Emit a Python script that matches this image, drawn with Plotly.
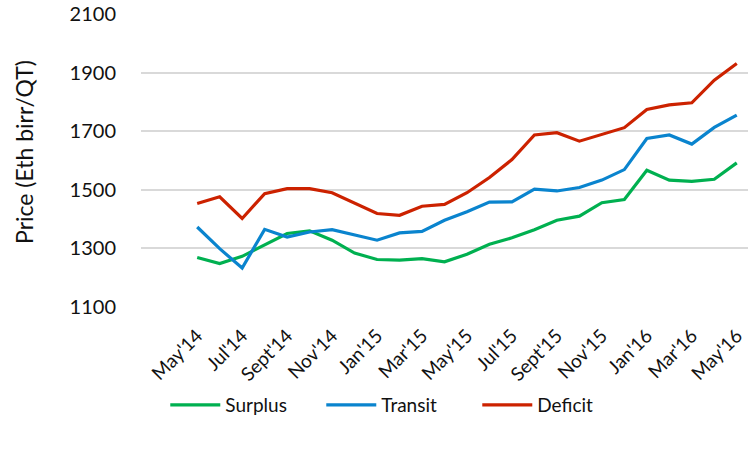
import plotly.graph_objects as go

FONT = "Lato, 'Open Sans', sans-serif"

# monthly, May'14 .. May'16
months = list(range(25))
tick_labels = ["May'14", "Jul'14", "Sept'14", "Nov'14", "Jan'15", "Mar'15", "May'15",
               "Jul'15", "Sept'15", "Nov'15", "Jan'16", "Mar'16", "May'16"]

surplus = [1269, 1248, 1273, 1311, 1351, 1360, 1328, 1284, 1262, 1260, 1265, 1254, 1280,
           1314, 1336, 1364, 1396, 1410, 1456, 1467, 1567, 1533, 1529, 1536, 1592]
transit = [1373, 1299, 1233, 1365, 1339, 1356, 1364, 1347, 1328, 1353, 1358, 1396, 1425,
           1458, 1459, 1502, 1496, 1508, 1533, 1569, 1675, 1687, 1656, 1713, 1755]
deficit = [1453, 1476, 1402, 1487, 1504, 1504, 1490, 1455, 1419, 1413, 1444, 1450, 1490,
           1542, 1603, 1687, 1695, 1666, 1689, 1712, 1774, 1790, 1797, 1874, 1931]

SERIES = [("Surplus", surplus, "#00B050"),
          ("Transit", transit, "#0A84CE"),
          ("Deficit", deficit, "#CC2200")]

fig = go.Figure()
for name, vals, color in SERIES:
    fig.add_trace(go.Scatter(x=months, y=vals, name=name, mode="lines",
                             line=dict(color=color, width=3.2)))

fig.update_layout(
    width=756, height=449,
    margin=dict(l=141, r=8, t=14, b=142),
    paper_bgcolor="white", plot_bgcolor="white",
    font=dict(family=FONT, size=19, color="#111111"),
    showlegend=True,
    legend=dict(orientation="h", x=0.04, xanchor="left", y=-0.27, yanchor="top",
                font=dict(size=19), itemwidth=50, entrywidth=91,
                entrywidthmode="pixels"),
    annotations=[dict(text="Price (Eth birr/QT)", textangle=-90, showarrow=False,
                      xref="paper", yref="paper", x=-0.194, y=0.53,
                      xanchor="center", yanchor="middle", font=dict(size=23))],
)
fig.update_xaxes(range=[-2.5, 24.5], tickvals=months[::2], ticktext=tick_labels,
                 tickangle=-45, showgrid=False, zeroline=False, showline=False,
                 ticks="", ticklabelstandoff=13, tickfont=dict(size=19), automargin=False)
fig.update_yaxes(range=[1100, 2100], tick0=1100, dtick=200, showgrid=True,
                 gridcolor="#D9D9D9", gridwidth=1.5, zeroline=False, showline=False,
                 ticks="", ticklabelstandoff=24, tickfont=dict(size=20), automargin=False)

# drop the browser's default 8px body margin so the figure sits at the page origin
fig.write_html("out.html", config={"displayModeBar": False},
               post_script="document.body.style.margin='0';")
